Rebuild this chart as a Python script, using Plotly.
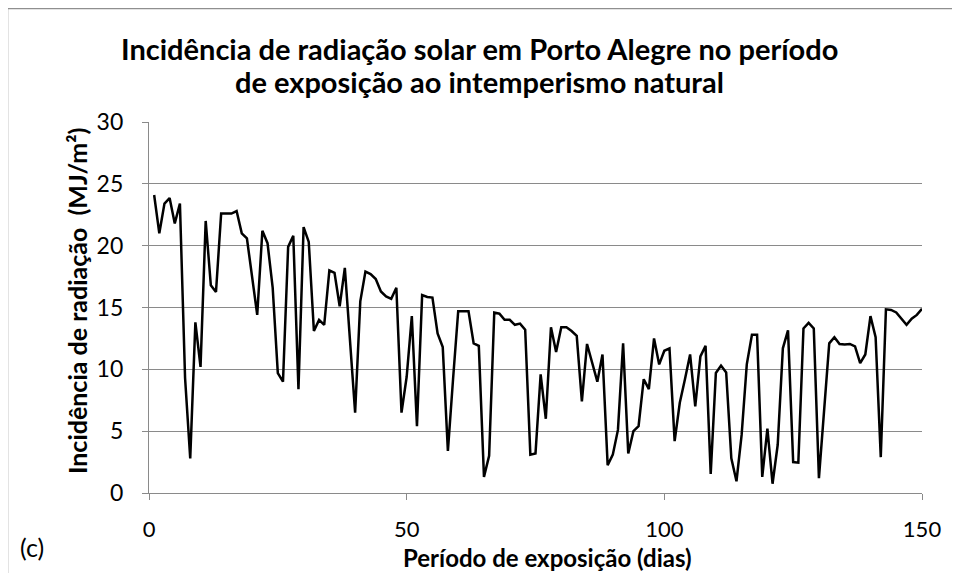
import plotly.graph_objects as go

# ---- data ----
days = list(range(1, 151))
radiation = [
    24.1, 21.0, 23.4, 23.85, 21.8, 23.4, 9.3, 2.8, 13.8, 10.2,
    22.0, 16.8, 16.25, 22.6, 22.6, 22.6, 22.8, 21.0, 20.6, 17.5,
    14.4, 21.2, 20.2, 16.6, 9.7, 9.0, 19.9, 20.8, 8.4, 21.5,
    20.3, 13.1, 14.0, 13.6, 18.0, 17.8, 15.1, 18.2, 12.5, 6.5,
    15.5, 17.9, 17.7, 17.3, 16.3, 15.9, 15.7, 16.6, 6.5, 9.4,
    14.3, 5.4, 16.0, 15.85, 15.8, 12.9, 11.8, 3.4, 9.2, 14.7,
    14.7, 14.7, 12.1, 11.9, 1.3, 3.0, 14.6, 14.5, 14.0, 14.0,
    13.6, 13.7, 13.2, 3.1, 3.2, 9.6, 6.0, 13.4, 11.4, 13.4,
    13.4, 13.1, 12.7, 7.4, 12.05, 10.5, 9.0, 11.2, 2.25, 3.1,
    5.1, 12.1, 3.2, 5.0, 5.4, 9.2, 8.4, 12.5, 10.4, 11.5,
    11.7, 4.2, 7.3, 9.2, 11.2, 7.0, 11.05, 11.9, 1.55, 9.7,
    10.3, 9.75, 2.8, 0.95, 4.7, 10.4, 12.8, 12.8, 1.3, 5.2,
    0.75, 3.9, 11.7, 13.15, 2.5, 2.45, 13.3, 13.75, 13.3, 1.2,
    6.7, 12.1, 12.6, 12.05, 12.0, 12.05, 11.85, 10.5, 11.2, 14.3,
    12.6, 2.9, 14.85, 14.8, 14.6, 14.1, 13.6, 14.1, 14.4, 14.9,
]
x_ticks = [0, 50, 100, 150]
y_ticks = [0, 5, 10, 15, 20, 25, 30]

title_line1 = "Incidência de radiação solar em Porto Alegre no período"
title_line2 = "de exposição ao intemperismo natural"
x_title = "Período de exposição (dias)"
y_title = "Incidência de radiação  (MJ/m²)"
panel_label = "(c)"

FONT = "Lato, 'Liberation Sans', sans-serif"
GRID = "#8a8a8a"

# page body has an 8px margin: figure origin sits at screen (8, 8)
OFF = 8
W, H = 960 - OFF, 573 - OFF
# plot area in screen pixels: x 149..922, y 122..493
L, T = 149 - OFF, 122 - OFF
R = W - (922 - OFF)
B = H - (493 - OFF)
pw, ph = W - L - R, H - T - B


def px_x(p):  # screen px -> paper x
    return (p - OFF - L) / pw


def px_y(p):  # screen px -> paper y
    return (H - B - (p - OFF)) / ph


fig = go.Figure()
fig.add_trace(go.Scatter(
    x=days, y=radiation, mode="lines",
    line=dict(color="black", width=2.5),
    showlegend=False, hoverinfo="x+y",
))

fig.update_layout(
    width=W, height=H,
    margin=dict(l=L, r=R, t=T, b=B, pad=0),
    paper_bgcolor="white", plot_bgcolor="white",
    font=dict(family=FONT, color="black", size=22),
    xaxis=dict(
        range=[0, 150], tickvals=x_ticks, showgrid=False, zeroline=False,
        showline=True, linecolor=GRID, linewidth=1.3,
        ticks="outside", ticklen=6, tickcolor=GRID, tickwidth=1.3,
        tickfont=dict(size=22, family=FONT), ticklabelstandoff=10,
    ),
    yaxis=dict(
        range=[0, 30], tickvals=y_ticks, showgrid=True, gridcolor=GRID,
        gridwidth=1.3, zeroline=False,
        showline=True, linecolor=GRID, linewidth=1.3,
        ticks="outside", ticklen=6, tickcolor=GRID, tickwidth=1.3,
        tickfont=dict(size=23, family=FONT), ticklabelstandoff=14,
    ),
    shapes=[dict(
        type="rect", xref="paper", yref="paper",
        x0=px_x(7.5), x1=px_x(1000), y0=px_y(620), y1=px_y(8.5),
        line=dict(color="#8f8f8f", width=1.5), fillcolor="rgba(0,0,0,0)",
        layer="below",
    )],
    annotations=[
        dict(text="<b>" + title_line1 + "</b>",
             xref="paper", yref="paper", x=px_x(479), y=px_y(48),
             xanchor="center", yanchor="middle", showarrow=False,
             font=dict(family=FONT, size=29, color="black")),
        dict(text="<b>" + title_line2 + "</b>",
             xref="paper", yref="paper", x=px_x(479), y=px_y(82),
             xanchor="center", yanchor="middle", showarrow=False,
             font=dict(family=FONT, size=29, color="black")),
        dict(text="<b>" + y_title + "</b>", textangle=-90,
             xref="paper", yref="paper", x=px_x(77), y=px_y(301),
             xanchor="center", yanchor="middle", showarrow=False,
             font=dict(family=FONT, size=25, color="black")),
        dict(text="<b>" + x_title + "</b>",
             xref="paper", yref="paper", x=px_x(547), y=px_y(557),
             xanchor="center", yanchor="middle", showarrow=False,
             font=dict(family=FONT, size=24, color="black")),
        dict(text=panel_label,
             xref="paper", yref="paper", x=px_x(32), y=px_y(547),
             xanchor="center", yanchor="middle", showarrow=False,
             font=dict(family=FONT, size=25, color="black")),
    ],
)

fig.write_html("out.html")
